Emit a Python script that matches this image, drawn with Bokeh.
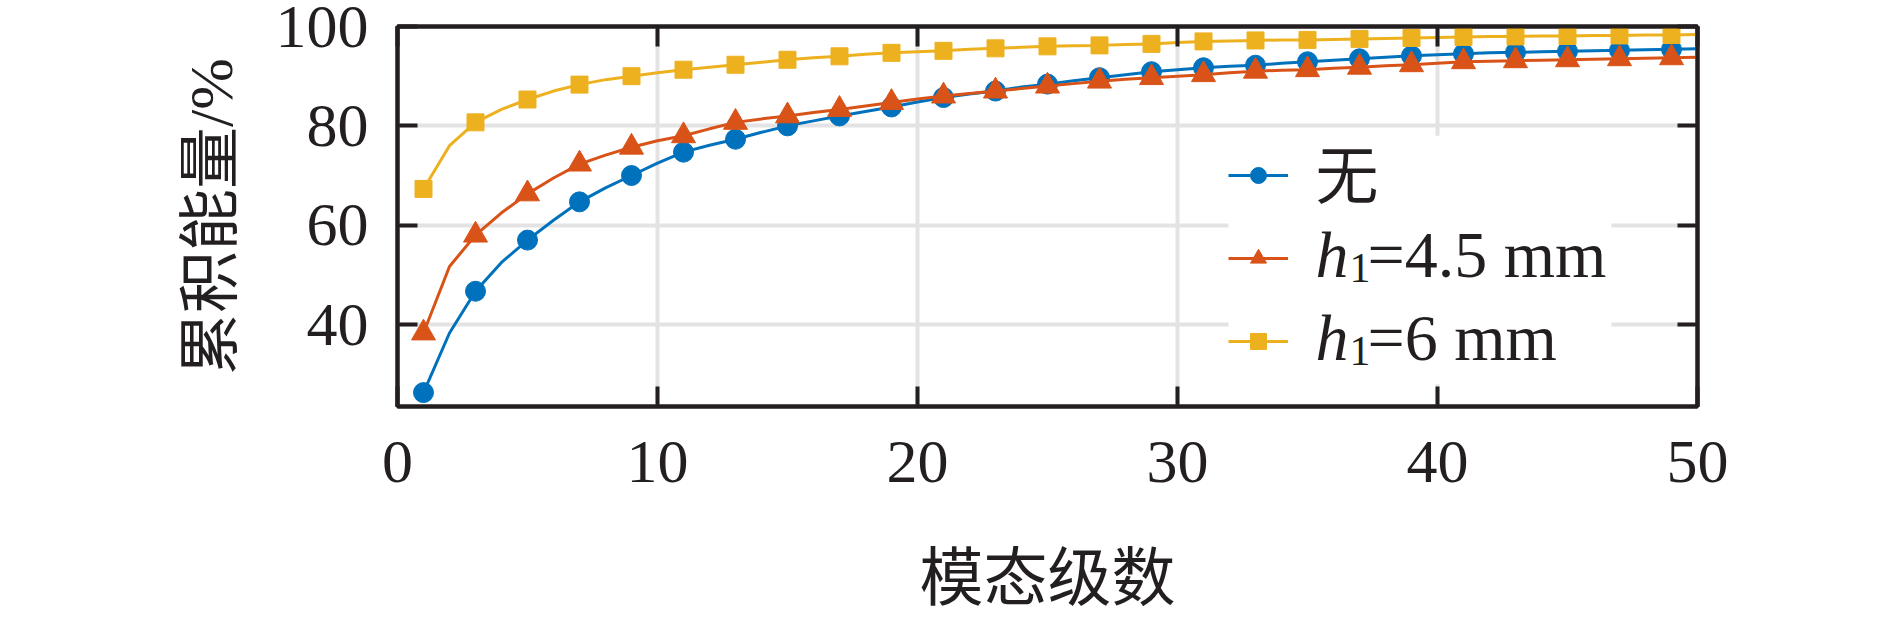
from bokeh.plotting import figure
from bokeh.models import (Range1d, LinearAxis, FixedTicker, Legend, LegendItem,
                          Label, CustomJSTickFormatter, ColumnDataSource,
                          BoxAnnotation)
from bokeh.embed import file_html
from bokeh.resources import INLINE

# ---------------- data ----------------
modes = list(range(1, 51))

energy_none = [26.3, 38.3, 46.7, 52.5, 57.0, 61.0, 64.7, 67.5, 70.0, 72.5,
               74.7, 76.1, 77.3, 78.7, 80.0, 81.0, 82.0, 82.9, 83.8, 84.8,
               85.7, 86.4, 87.0, 87.8, 88.4, 89.1, 89.7, 90.3, 90.9, 91.3,
               91.7, 92.0, 92.2, 92.6, 92.9, 93.2, 93.5, 93.8, 94.1, 94.3,
               94.5, 94.7, 94.8, 94.9, 95.0, 95.1, 95.2, 95.3, 95.4, 95.5]

energy_h45 = [38.3, 51.7, 58.0, 62.5, 66.3, 69.5, 72.3, 74.1, 75.7, 77.0,
              78.0, 79.4, 80.7, 81.4, 82.0, 82.7, 83.3, 84.0, 84.7, 85.4,
              86.0, 86.5, 87.0, 87.5, 88.0, 88.5, 89.0, 89.4, 89.7, 90.0,
              90.3, 90.7, 91.0, 91.2, 91.3, 91.6, 91.8, 92.1, 92.3, 92.6,
              92.9, 93.0, 93.1, 93.2, 93.3, 93.4, 93.5, 93.6, 93.7, 93.8]

energy_h6 = [67.3, 76.0, 80.7, 83.3, 85.3, 87.0, 88.3, 89.3, 90.0, 90.7,
             91.3, 91.8, 92.3, 92.8, 93.3, 93.7, 94.0, 94.4, 94.7, 94.9,
             95.1, 95.4, 95.6, 95.8, 96.0, 96.1, 96.2, 96.4, 96.5, 96.8,
             97.0, 97.1, 97.2, 97.3, 97.3, 97.4, 97.5, 97.6, 97.7, 97.8,
             97.9, 98.0, 98.0, 98.1, 98.1, 98.2, 98.2, 98.3, 98.3, 98.4]

x_ticks = [0, 10, 20, 30, 40, 50]
y_ticks = [40, 60, 80, 100]
x_title = "模态级数"
y_title = "累积能量/%"

# ---------------- styling ----------------
BLUE = "#0072BD"
ORANGE = "#D95319"
YELLOW = "#EDB120"
INK = "#231f20"
SERIF = "Liberation Serif, Noto Sans CJK SC"

p = figure(width=1882, height=616, output_backend="svg", toolbar_location=None,
           x_range=Range1d(0, 50), y_range=Range1d(23.5, 100),
           min_border_left=397, min_border_right=185,
           min_border_top=26, min_border_bottom=208)
p.background_fill_color = "white"
p.border_fill_color = "white"
p.outline_line_color = INK
p.outline_line_width = 4

# axes
for ax in (p.xaxis[0], p.yaxis[0]):
    ax.axis_line_color = INK
    ax.axis_line_width = 4
    ax.major_tick_line_color = INK
    ax.major_tick_line_width = 4
    ax.major_tick_in = 20
    ax.major_tick_out = 0
    ax.minor_tick_line_color = None
    ax.major_label_text_font = "Liberation Serif"
    ax.major_label_text_font_size = "62px"
    ax.major_label_text_color = INK
    ax.axis_label_text_font = SERIF
    ax.axis_label_text_font_style = "normal"
    ax.axis_label_text_color = INK

p.xaxis.ticker = FixedTicker(ticks=x_ticks)
p.yaxis.ticker = FixedTicker(ticks=y_ticks)
p.xaxis.axis_label = x_title
p.yaxis.axis_label = y_title
p.xaxis.axis_label_text_font_size = "64px"
p.yaxis.axis_label_text_font_size = "62px"
p.xaxis.major_label_standoff = 35
p.yaxis.major_label_standoff = 29
p.xaxis.axis_label_standoff = 58
p.yaxis.axis_label_standoff = 28

# mirrored axes (ticks only)
blank = CustomJSTickFormatter(code="return ''")
top_ax = LinearAxis(ticker=FixedTicker(ticks=x_ticks), formatter=blank)
right_ax = LinearAxis(ticker=FixedTicker(ticks=y_ticks), formatter=blank)
for ax in (top_ax, right_ax):
    ax.axis_line_color = INK
    ax.axis_line_width = 4
    ax.major_tick_line_color = INK
    ax.major_tick_line_width = 4
    ax.major_tick_in = 20
    ax.major_tick_out = 0
    ax.minor_tick_line_color = None
    ax.major_label_text_font_size = "0px"
    ax.major_label_standoff = 0
p.add_layout(top_ax, "above")
p.add_layout(right_ax, "right")

# grid
p.xgrid.ticker = FixedTicker(ticks=x_ticks)
p.ygrid.ticker = FixedTicker(ticks=y_ticks)
p.grid.grid_line_color = "#e3e3e3"
p.grid.grid_line_width = 4

# white patch behind the legend (hides the grid there)
p.add_layout(BoxAnnotation(left=31.96, right=46.69, bottom=28.0, top=78.0,
                           fill_color="white", fill_alpha=1.0,
                           line_color=None, level="underlay"))

# ---------------- series ----------------
series = [
    (energy_none, BLUE, "circle", 20),
    (energy_h45, ORANGE, "triangle", 24),
    (energy_h6, YELLOW, "square", 17),
]
legend_items = []
for vals, color, marker, size in series:
    line_src = ColumnDataSource(data=dict(x=modes, y=vals))
    mark_src = ColumnDataSource(data=dict(x=modes[::2], y=vals[::2]))
    lr = p.line("x", "y", source=line_src, line_color=color, line_width=3)
    mr = p.scatter("x", "y", source=mark_src, marker=marker, size=size,
                   fill_color=color, line_color=color)
    legend_items.append(LegendItem(label=" ", renderers=[lr, mr]))

legend = Legend(items=legend_items, location=(831, 45), orientation="vertical",
                padding=7, spacing=43, margin=0,
                glyph_width=60, glyph_height=40, label_height=40,
                label_standoff=13, label_width=296,
                label_text_font_size="20px",
                border_line_color=None, background_fill_alpha=0.0)
p.add_layout(legend, "center")

# legend texts (with italic h and subscript 1)
def lab(x, y, text, size, style="normal", baseline="alphabetic"):
    p.add_layout(Label(x=x, y=y, x_units="data", y_units="data", text=text,
                       text_font=SERIF, text_font_size=size,
                       text_font_style=style, text_color=INK,
                       text_baseline=baseline, text_align="left",
                       level="overlay"))

lab(35.31, 69.8, "无", "63px", baseline="middle")
lab(35.31, 54.0, "h", "66px", style="italic")
lab(36.62, 51.3, "1", "42px")
lab(37.31, 54.0, "=4.5 mm", "66px")
lab(35.31, 37.4, "h", "66px", style="italic")
lab(36.62, 34.7, "1", "42px")
lab(37.31, 37.4, "=6 mm", "66px")

open("out.html", "w").write(file_html(p, INLINE))
